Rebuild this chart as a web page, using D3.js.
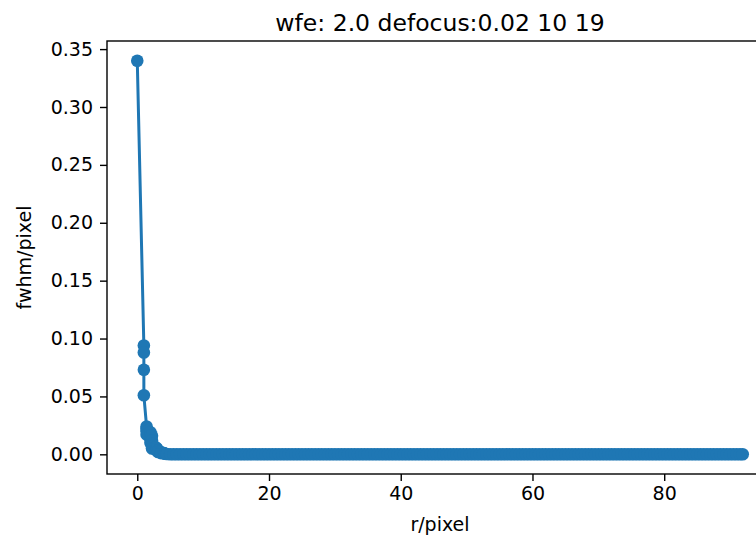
<!DOCTYPE html>
<html>
<head>
<meta charset="utf-8">
<script src="https://cdn.jsdelivr.net/npm/d3@7"></script>
<style>
	body{margin:0;background:#fff;overflow:hidden}
	svg{display:block}
	text{font-family:"DejaVu Sans",sans-serif;fill:#000}
</style>
</head>
<body>
<div id="my_dataviz"></div>
<script>

// radius (pixel) and fwhm, head of the curve
var rHead=[0,1,1,1,1,1.414,1.414,1.414,1.414,2,2,2,2,2.236,2.236,2.236,2.236,2.236,2.828,2.828,3,3,3.162,3.162,3.606,3.606,4,4.123,4.243,4.472]
var fwhmHead=[0.34,0.094,0.088,0.073,0.051,0.024,0.022,0.020,0.017,0.019,0.016,0.013,0.010,0.016,0.012,0.009,0.007,0.005,0.006,0.004,0.005,0.003,0.003,0.002,0.002,0.001,0.001,0.0008,0.0005,0.0003]

// flat tail, everything sits on zero
var rTail=[5,5.5,6,6.5,7,7.5,8,8.5,9,9.5,10,10.5,11,11.5,12,12.5,13,13.5,14,14.5,15,15.5,16,16.5,17,17.5,18,18.5,19,19.5,
	20,20.5,21,21.5,22,22.5,23,23.5,24,24.5,25,25.5,26,26.5,27,27.5,28,28.5,29,29.5,30,30.5,31,31.5,32,32.5,33,33.5,34,34.5,
	35,35.5,36,36.5,37,37.5,38,38.5,39,39.5,40,40.5,41,41.5,42,42.5,43,43.5,44,44.5,45,45.5,46,46.5,47,47.5,48,48.5,49,49.5,
	50,50.5,51,51.5,52,52.5,53,53.5,54,54.5,55,55.5,56,56.5,57,57.5,58,58.5,59,59.5,60,60.5,61,61.5,62,62.5,63,63.5,64,64.5,
	65,65.5,66,66.5,67,67.5,68,68.5,69,69.5,70,70.5,71,71.5,72,72.5,73,73.5,74,74.5,75,75.5,76,76.5,77,77.5,78,78.5,79,79.5,
	80,80.5,81,81.5,82,82.5,83,83.5,84,84.5,85,85.5,86,86.5,87,87.5,88,88.5,89,89.5,90,90.5,91,91.5,91.92]
var fwhmTail=[0,0,0,0,0,0,0,0,0,0,0,0,0,0,0,0,0,0,0,0,0,0,0,0,0,0,0,0,0,0,
	0,0,0,0,0,0,0,0,0,0,0,0,0,0,0,0,0,0,0,0,0,0,0,0,0,0,0,0,0,0,
	0,0,0,0,0,0,0,0,0,0,0,0,0,0,0,0,0,0,0,0,0,0,0,0,0,0,0,0,0,0,
	0,0,0,0,0,0,0,0,0,0,0,0,0,0,0,0,0,0,0,0,0,0,0,0,0,0,0,0,0,0,
	0,0,0,0,0,0,0,0,0,0,0,0,0,0,0,0,0,0,0,0,0,0,0,0,0,0,0,0,0,0,
	0,0,0,0,0,0,0,0,0,0,0,0,0,0,0,0,0,0,0,0,0,0,0,0,0]

var xTicks=[0,20,40,60,80]
var yTicks=[0,0.05,0.10,0.15,0.20,0.25,0.30,0.35]
var title="wfe: 2.0 defocus:0.02 10 19"
var xLabel="r/pixel"
var yLabel="fwhm/pixel"

function drawChart(){
	var W=756, H=538
	var margin={top:41, left:107}
		, width=666
		, height=433

	var pts=[]
	rHead.forEach(function(r,i){ pts.push({r:r, v:fwhmHead[i]}) })
	rTail.forEach(function(r,i){ pts.push({r:r, v:fwhmTail[i]}) })

	// matplotlib style 5% margins
	var xe=d3.extent(pts,function(d){return d.r}), ye=d3.extent(pts,function(d){return d.v})
	var xp=(xe[1]-xe[0])*0.05, yp=(ye[1]-ye[0])*0.05

	var xScale=d3.scaleLinear()
		.domain([xe[0]-xp, xe[1]+xp])
		.range([margin.left, margin.left+width])
	var yScale=d3.scaleLinear()
		.domain([ye[0]-yp, ye[1]+yp])
		.range([margin.top+height, margin.top])

	var svg=d3.select("#my_dataviz").append("svg")
		.attr("width",W)
		.attr("height",H)

	var c="#1f77b4"
	var line=d3.line()
		.x(function(d){return xScale(d.r)})
		.y(function(d){return yScale(d.v)})

	svg.append("path")
		.datum(pts)
		.attr("d",line)
		.attr("fill","none")
		.attr("stroke",c)
		.attr("stroke-width",3)
		.attr("stroke-linejoin","round")
		.attr("stroke-linecap","round")

	svg.selectAll(".dot")
		.data(pts)
		.enter().append("circle")
		.attr("class","dot")
		.attr("cx",function(d){return xScale(d.r)})
		.attr("cy",function(d){return yScale(d.v)})
		.attr("r",6.3)
		.attr("fill",c)

	// spines
	svg.append("rect")
		.attr("x",margin.left)
		.attr("y",margin.top)
		.attr("width",width)
		.attr("height",height)
		.attr("fill","none")
		.attr("stroke","#000")
		.attr("stroke-width",1.4)

	var xAxis=svg.append("g")
		.attr("transform","translate(0,"+(margin.top+height)+")")
		.call(d3.axisBottom(xScale).tickValues(xTicks).tickSize(7).tickPadding(6).tickSizeOuter(0).tickFormat(d3.format("d")))
	var yAxis=svg.append("g")
		.attr("transform","translate("+margin.left+",0)")
		.call(d3.axisLeft(yScale).tickValues(yTicks).tickSize(7).tickPadding(7).tickSizeOuter(0).tickFormat(d3.format(".2f")))

	;[xAxis,yAxis].forEach(function(g){
		g.select(".domain").remove()
		g.selectAll(".tick line").attr("stroke","#000").attr("stroke-width",1.4)
		g.selectAll(".tick text").attr("font-size",19).attr("font-family","DejaVu Sans").attr("fill","#000")
	})

	svg.append("text")
		.attr("x",margin.left+width/2)
		.attr("y",31)
		.attr("text-anchor","middle")
		.attr("font-size",23.5)
		.text(title)

	svg.append("text")
		.attr("x",margin.left+width/2)
		.attr("y",531)
		.attr("text-anchor","middle")
		.attr("font-size",19)
		.text(xLabel)

	svg.append("text")
		.attr("transform","translate(31,"+(margin.top+height/2)+") rotate(-90)")
		.attr("text-anchor","middle")
		.attr("font-size",19)
		.text(yLabel)
}

drawChart()
</script>
</body>
</html>
